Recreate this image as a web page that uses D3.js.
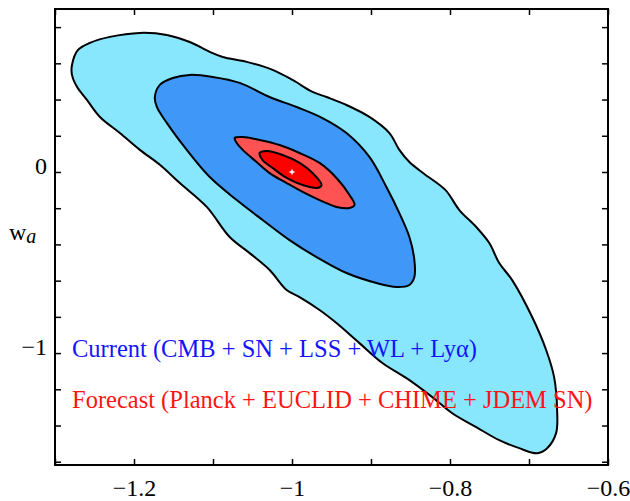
<!DOCTYPE html>
<html>
<head>
<meta charset="utf-8">
<script src="https://cdn.jsdelivr.net/npm/d3@7"></script>
<style>
  body { margin: 0; background: #fff; }
  svg text { font-family: "Liberation Serif", "Times New Roman", serif; }
</style>
</head>
<body>
<div id="chart"></div>
<script>
const width = 630;
const height = 501;
const margin = { top: 9, right: 22, bottom: 36, left: 55 };

// contour outlines, (w0, wa) pairs
const current95 = [
  [-1.2785, 0.591], [-1.2709, 0.674], [-1.2558, 0.713], [-1.2305, 0.746], [-1.1926, 0.768],
  [-1.1585, 0.757], [-1.1294, 0.718], [-1.1041, 0.663], [-1.0877, 0.635], [-1.0574, 0.608],
  [-1.0245, 0.564], [-0.9993, 0.508], [-0.9740, 0.442], [-0.9563, 0.414], [-0.9310, 0.370],
  [-0.9020, 0.304], [-0.8767, 0.215], [-0.8641, 0.122], [-0.8514, 0.055], [-0.8325, -0.011],
  [-0.8059, -0.099], [-0.7882, -0.210], [-0.7668, -0.304], [-0.7503, -0.392], [-0.7377, -0.503],
  [-0.7213, -0.597], [-0.6960, -0.801], [-0.6783, -0.983], [-0.6682, -1.133], [-0.6644, -1.315],
  [-0.6657, -1.442], [-0.6770, -1.525], [-0.6897, -1.553], [-0.7124, -1.525], [-0.7377, -1.481],
  [-0.7668, -1.409], [-0.7971, -1.332], [-0.8224, -1.243], [-0.8514, -1.149], [-0.8855, -1.055],
  [-0.9146, -0.945], [-0.9437, -0.834], [-0.9651, -0.762], [-0.9904, -0.691], [-1.0068, -0.652],
  [-1.0283, -0.541], [-1.0536, -0.448], [-1.0789, -0.359], [-1.1079, -0.193], [-1.1420, -0.061],
  [-1.1673, 0.040], [-1.1926, 0.122], [-1.2179, 0.215], [-1.2431, 0.304], [-1.2596, 0.398],
  [-1.2722, 0.470], [-1.2785, 0.536]
];

const current68 = [
  [-1.1736, 0.414], [-1.1673, 0.481], [-1.1509, 0.519], [-1.1294, 0.536], [-1.1004, 0.525],
  [-1.0662, 0.492], [-1.0283, 0.414], [-0.9942, 0.359], [-0.9614, 0.298], [-0.9310, 0.215],
  [-0.9020, 0.083], [-0.8805, -0.083], [-0.8641, -0.227], [-0.8514, -0.359], [-0.8451, -0.486],
  [-0.8451, -0.580], [-0.8514, -0.624], [-0.8678, -0.635], [-0.8931, -0.613], [-0.9310, -0.558],
  [-0.9689, -0.470], [-1.0031, -0.376], [-1.0372, -0.265], [-1.0700, -0.155], [-1.1041, -0.028],
  [-1.1332, 0.122], [-1.1585, 0.271], [-1.1711, 0.359]
];

const forecast95 = [
  [-1.0726, 0.188], [-1.0624, 0.193], [-1.0410, 0.177], [-1.0157, 0.149], [-0.9904, 0.105],
  [-0.9651, 0.050], [-0.9437, -0.033], [-0.9272, -0.127], [-0.9209, -0.182], [-0.9272, -0.199],
  [-0.9437, -0.193], [-0.9651, -0.155], [-0.9866, -0.110], [-1.0068, -0.061], [-1.0283, -0.006],
  [-1.0448, 0.055], [-1.0624, 0.122], [-1.0700, 0.160]
];

const forecast68 = [
  [-1.0410, 0.105], [-1.0321, 0.116], [-1.0119, 0.094], [-0.9904, 0.050], [-0.9740, -0.006],
  [-0.9626, -0.072], [-0.9677, -0.088], [-0.9866, -0.072], [-1.0068, -0.033], [-1.0245, 0.022],
  [-1.0372, 0.066]
];

const fiducial = [-1, 0];

const xTicks = [-1.3, -1.2, -1.1, -1.0, -0.9, -0.8, -0.7, -0.6];
const xLabels = { "-1.2": "\u22121.2", "-1": "\u22121", "-0.8": "\u22120.8", "-0.6": "\u22120.6" };
const yTicks = [0.8, 0.6, 0.4, 0.2, 0, -0.2, -0.4, -0.6, -0.8, -1.0, -1.2, -1.4, -1.6];
const yLabels = { "0": "0", "-1": "\u22121" };

const legendLines = [
  { text: "Current (CMB + SN + LSS + WL + Ly\u03b1)", color: "#1414ff" },
  { text: "Forecast (Planck + EUCLID + CHIME + JDEM SN)", color: "#ff1414" }
];

const svg = d3.select("#chart")
  .append("svg")
  .attr("width", width)
  .attr("height", height);

const x = d3.scaleLinear()
  .domain([-1.3, -0.6])
  .range([margin.left, width - margin.right]);

const y = d3.scaleLinear()
  .domain([-1.618, 0.9])
  .range([height - margin.bottom, margin.top]);

const line = d3.line()
  .x(d => x(d[0]))
  .y(d => y(d[1]))
  .curve(d3.curveCatmullRomClosed.alpha(0.5));

const contours = [
  { pts: current95, fill: "#88e6fd" },
  { pts: current68, fill: "#3f97f7" },
  { pts: forecast95, fill: "#ff5252" },
  { pts: forecast68, fill: "#ff0000" }
];

svg.selectAll("path.contour")
  .data(contours)
  .enter().append("path")
  .attr("class", "contour")
  .attr("d", d => line(d.pts))
  .attr("fill", d => d.fill)
  .attr("stroke", "#000")
  .attr("stroke-width", 2)
  .attr("stroke-linejoin", "round");

// white cross at fiducial point
const fx = x(fiducial[0]), fy = y(fiducial[1]);
svg.append("path")
  .attr("d", `M${fx - 2.5},${fy}H${fx + 2.5}M${fx},${fy - 2.5}V${fy + 2.5}`)
  .attr("stroke", "#fff")
  .attr("stroke-width", 1.5);

// axes, ticks pointing inward
const fmtX = d => xLabels[String(+d.toFixed(1))] || "";
const fmtY = d => yLabels[String(+d.toFixed(1))] || "";

svg.append("g")
  .attr("transform", `translate(0,${height - margin.bottom})`)
  .call(d3.axisBottom(x).tickValues(xTicks).tickSize(-6).tickPadding(14).tickFormat(fmtX));

svg.append("g")
  .attr("transform", `translate(0,${margin.top})`)
  .call(d3.axisTop(x).tickValues(xTicks).tickSize(-6).tickFormat(""));

const leftAxis = svg.append("g")
  .attr("transform", `translate(${margin.left},0)`)
  .call(d3.axisLeft(y).tickValues(yTicks).tickSize(-6).tickPadding(8).tickFormat(fmtY));

svg.append("g")
  .attr("transform", `translate(${width - margin.right},0)`)
  .call(d3.axisRight(y).tickValues(yTicks).tickSize(-6).tickFormat(""));

svg.selectAll(".tick line").attr("stroke", "#000").attr("stroke-width", 1.5);
svg.selectAll(".domain").remove();
svg.selectAll(".tick text")
  .attr("fill", "#000")
  .style("font-family", "'Liberation Serif', serif")
  .style("font-size", "24px");
leftAxis.selectAll(".tick text").attr("dy", "0.05em");

// frame
svg.append("rect")
  .attr("x", margin.left)
  .attr("y", margin.top)
  .attr("width", width - margin.left - margin.right)
  .attr("height", height - margin.top - margin.bottom)
  .attr("fill", "none")
  .attr("stroke", "#000")
  .attr("stroke-width", 2);

// y axis title
const yt = svg.append("text")
  .attr("x", 9)
  .attr("y", 240)
  .style("font-size", "24px")
  .attr("fill", "#000");
yt.append("tspan").text("w");
yt.append("tspan").attr("dy", 3).style("font-style", "italic").style("font-size", "20px").text("a");

// legend text
svg.selectAll("text.legend")
  .data(legendLines)
  .enter().append("text")
  .attr("class", "legend")
  .attr("x", 72)
  .attr("y", (d, i) => 357 + i * 51)
  .attr("fill", d => d.color)
  .style("font-size", "24.5px")
  .text(d => d.text);
</script>
</body>
</html>
